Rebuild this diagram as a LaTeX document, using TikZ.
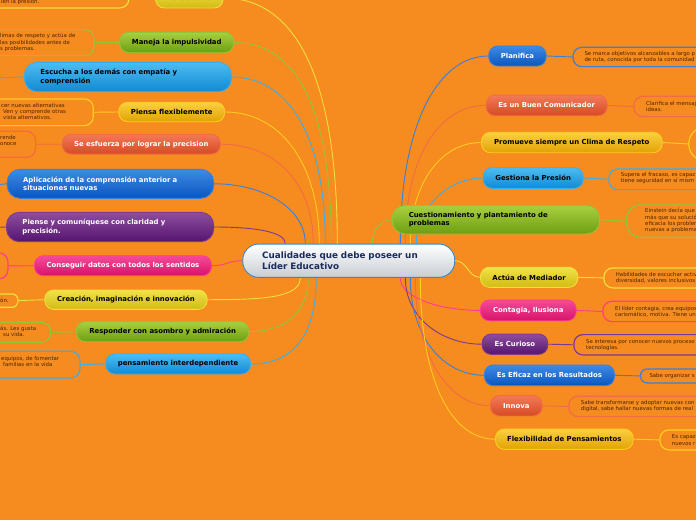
\documentclass[tikz,border=0pt]{standalone}
\usepackage{fontspec}
\newfontfamily\dvs{DejaVu Sans}
\newcommand\brf{\dvs\bfseries\fontsize{6.9}{8.4}\selectfont}
\newcommand\dtf{\dvs\fontsize{5.4}{6.3}\selectfont}
\newcommand\cnf{\dvs\bfseries\fontsize{8.8}{10.7}\selectfont}
\definecolor{BG}{HTML}{F68B1F}
\definecolor{Ytp}{HTML}{F0E24A}\definecolor{Ybt}{HTML}{D2BA12}\definecolor{Ybd}{HTML}{EEE03A}
\definecolor{Gtp}{HTML}{FAD040}\definecolor{Gbt}{HTML}{E2A204}\definecolor{Gbd}{HTML}{FFCC22}
\definecolor{Ntp}{HTML}{A8D040}\definecolor{Nbt}{HTML}{6E9E12}\definecolor{Nbd}{HTML}{92C63A}
\definecolor{Ctp}{HTML}{4DBCF2}\definecolor{Cbt}{HTML}{108AD4}\definecolor{Cbd}{HTML}{3AAEEA}
\definecolor{Btp}{HTML}{3D8BE6}\definecolor{Bbt}{HTML}{0B55BF}\definecolor{Bbd}{HTML}{3A7FDD}
\definecolor{Rtp}{HTML}{F27A58}\definecolor{Rbt}{HTML}{D64A22}\definecolor{Rbd}{HTML}{F26B45}
\definecolor{Ptp}{HTML}{F54B98}\definecolor{Pbt}{HTML}{D8126A}\definecolor{Pbd}{HTML}{FF3C92}
\definecolor{Utp}{HTML}{8E4E9E}\definecolor{Ubt}{HTML}{551470}\definecolor{Ubd}{HTML}{7B3A90}
\definecolor{Mbt}{HTML}{C8CDD3}\definecolor{Mbd}{HTML}{3B86C8}\definecolor{Mtx}{HTML}{1B2B5B}
\definecolor{Dtx}{HTML}{4A2800}
\pgfdeclarelayer{bg}\pgfdeclarelayer{links}
\pgfsetlayers{bg,links,main}
\begin{document}
\begin{tikzpicture}[x=1pt,y=-1pt,
  br/.style={rounded corners=9pt, line width=0.9pt, anchor=west, inner sep=0pt, align=center, font=\brf},
  fYel/.style={br, draw=Ybd, top color=Ytp, bottom color=Ybt, text=black},
  fGld/.style={br, draw=Gbd, top color=Gtp, bottom color=Gbt, text=black},
  fGrn/.style={br, draw=Nbd, top color=Ntp, bottom color=Nbt, text=black},
  fCya/.style={br, draw=Cbd, top color=Ctp, bottom color=Cbt, text=black},
  fBlu/.style={br, draw=Bbd, top color=Btp, bottom color=Bbt, text=white},
  fRed/.style={br, draw=Rbd, top color=Rtp, bottom color=Rbt, text=white},
  fPnk/.style={br, draw=Pbd, top color=Ptp, bottom color=Pbt, text=white},
  fPur/.style={br, draw=Ubd, top color=Utp, bottom color=Ubt, text=white},
  twoline/.style={align=left, rounded corners=13pt, inner xsep=16pt},
  dbox/.style={draw=#1, rounded corners=9pt, line width=1.2pt, anchor=north west, inner sep=0pt},
  dtx/.style={anchor=west, inner sep=0pt, align=left, font=\dtf, text=Dtx},
  lk/.style={line width=0.9pt, draw=#1},
]
\useasboundingbox (0,0) rectangle (696,520);
\begin{pgfonlayer}{bg}
\fill[BG] (0,0) rectangle (696,520);
\end{pgfonlayer}
\clip (0,0) rectangle (696,520);

% central node
\node[draw=Mbd, top color=white, bottom color=Mbt, line width=0.9pt, rounded corners=16pt,
  anchor=west, minimum width=212pt, minimum height=33.3pt, inner xsep=19.4pt, inner ysep=0pt,
  text width=173.2pt, align=left, font=\cnf, text=Mtx] (c) at (242.3,260.7)
  {Cualidades que debe poseer un\\Líder Educativo};

% left branches
\node[fYel, minimum width=67.7pt, minimum height=20pt] (L1) at (155,-2) {Persistente};
\node[fGrn, minimum width=114pt, minimum height=20.4pt] (L2) at (119.3,42.5) {Maneja la impulsividad};
\node[fCya, twoline, text width=175pt, minimum height=29.4pt] (L3) at (24,77) {Escucha a los demás con empatía y\\comprensión};
\node[fGld, minimum width=106pt, minimum height=19.4pt] (L4) at (118.3,112) {Piensa flexiblemente};
\node[fRed, minimum width=158.3pt, minimum height=19.7pt] (L5) at (61.7,144.2) {Se esfuerza por lograr la precision};
\node[fBlu, twoline, text width=174.6pt, minimum height=29pt] (L6) at (6.7,183.8) {Aplicación de la comprensión anterior a\\situaciones nuevas};
\node[fPur, twoline, text width=175.3pt, minimum height=29.4pt, inner xsep=16pt] (L7) at (6,227) {Piense y comuníquese con claridad y\\precisión.};
\node[fPnk, minimum width=177pt, minimum height=20pt] (L8) at (34,265.7) {Conseguir datos con todos los sentidos};
\node[fYel, minimum width=162.4pt, minimum height=19.4pt] (L9) at (44.3,299.7) {Creación, imaginación e innovación};
\node[fGrn, minimum width=172.3pt, minimum height=20pt] (L10) at (76,331.7) {Responder con asombro y admiración};
\node[fCya, minimum width=144.7pt, minimum height=20pt] (L11) at (105.3,364) {pensamiento interdependiente};

% left details
\node[dbox=Ybd, minimum width=168.3pt, minimum height=27.3pt] (L1d) at (-40,-20) {};
\node[dtx] (L1t) at (1,2.3) {ien la presión.};
\node[dbox=Nbd, minimum width=133.3pt, minimum height=26pt] (L2d) at (-40,29) {};
\node[dtx] (L2t) at (0,42.4) {limas de respeto y actúa de\\las posibilidades antes de\\s problemas.};
\node[dbox=Gbd, minimum width=132.7pt, minimum height=26.7pt] (L4d) at (-40,98.3) {};
\node[dtx] (L4t) at (1,111.6) {cer nuevas alternativas\\\hspace*{2pt}Ven y comprende otras\\\hspace*{2pt}vista alternativos.};
\node[dbox=Rbd, minimum width=75pt, minimum height=26pt] (L5d) at (-40,130.7) {};
\node[dtx] (L5t) at (0,140.8) {rende\\onoce};
\node[dbox=Pbd, minimum width=47.3pt, minimum height=26pt] (L8d) at (-40,252.3) {};
\node[dbox=Ybd, rounded corners=6pt, minimum width=57.3pt, minimum height=13.4pt] (L9d) at (-40,293.3) {};
\node[dtx] (L9t) at (0,300.3) {ón.};
\node[dbox=Nbd, minimum width=90pt, minimum height=20pt] (L10d) at (-40,321.7) {};
\node[dtx] (L10t) at (0,331.4) {ás. Les gusta\\\hspace*{3pt}su vida.};
\node[dbox=Cbd, minimum width=119.3pt, minimum height=26.6pt] (L11d) at (-40,350.7) {};
\node[dtx] (L11t) at (1,361.6) {equipos, de fomentar\\\hspace*{2pt}familias en la vida};

\coordinate (e3) at (-6,78);
\coordinate (e6) at (-6,185);
\coordinate (e7) at (-6,227.5);

% right branches
\node[fBlu, minimum width=57.4pt, minimum height=20pt] (R1) at (488.3,56) {Planifica};
\node[fRed, minimum width=121pt, minimum height=20.7pt] (R2) at (485.7,105.4) {Es un Buen Comunicador};
\node[fGld, minimum width=180.7pt, minimum height=20.4pt] (R3) at (481,142.5) {Promueve siempre un Clima de Respeto};
\node[fCya, minimum width=100pt, minimum height=20.6pt] (R4) at (482.7,178) {Gestiona la Presión};
\node[fGrn, twoline, text width=174.4pt, inner xsep=16.6pt, minimum height=28.3pt] (R5) at (391.7,219.8) {Cuestionamiento y plantamiento de\\problemas};
\node[fYel, minimum width=97.3pt, minimum height=20pt] (R6) at (480,277.3) {Actúa de Mediador};
\node[fPnk, minimum width=95.7pt, minimum height=20.7pt] (R7) at (480,310.4) {Contagia, Ilusiona};
\node[fPur, minimum width=65.6pt, minimum height=20.3pt] (R8) at (481.7,344.2) {Es Curioso};
\node[fBlu, minimum width=130pt, minimum height=20.7pt] (R9) at (484,375.3) {Es Eficaz en los Resultados};
\node[fRed, minimum width=51.7pt, minimum height=20.3pt] (R10) at (490,405.8) {Innova};
\node[fGld, minimum width=137.7pt, minimum height=20.3pt] (R11) at (495,439.2) {Flexibilidad de Pensamientos};

% right details
\node[dbox=Bbd, minimum width=167.7pt, minimum height=19.3pt] (R1d) at (572.3,46.7) {};
\node[dtx] (R1t) at (584.3,56.8) {Se marca objetivos alcanzables a largo p\\de ruta, conocida por toda la comunidad};
\node[dbox=Rbd, minimum width=106.7pt, minimum height=20.3pt] (R2d) at (633.3,95.7) {};
\node[dtx] (R2t) at (646,106.3) {Clarifica el mensaj\\ideas.};
\node[dbox=Gbd, rounded corners=16pt, minimum width=60pt, minimum height=33.3pt] (R3d) at (688.3,126.7) {};
\node[dbox=Cbd, minimum width=131.7pt, minimum height=20.7pt] (R4d) at (608.3,168.3) {};
\node[dtx] (R4t) at (620.7,178.2) {Supera el fracaso, es capaz\\tiene seguridad en sí mism};
\node[dbox=Nbd, rounded corners=14pt, minimum width=114pt, minimum height=32.4pt] (R5d) at (626,204.3) {};
\node[dtx] (R5t) at (645,220.8) {Einstein decía que\\más que su solució\\eficacia los problem\\nuevas a problema};
\node[dbox=Ybd, minimum width=136.7pt, minimum height=20pt] (R6d) at (603.3,267.3) {};
\node[dtx] (R6t) at (615.7,277.5) {Habilidades de escuchar activ\\diversidad, valores inclusivos};
\node[dbox=Pbd, minimum width=137.7pt, minimum height=20.3pt] (R7d) at (602.3,300.7) {};
\node[dtx] (R7t) at (615,311.6) {El líder contagia, crea equipos\\carismático, motiva. Tiene un};
\node[dbox=Ubd, minimum width=166.7pt, minimum height=20.3pt] (R8d) at (573.3,334) {};
\node[dtx] (R8t) at (586,345.2) {Se interesa por conocer nuevos proceso\\tecnologías.};
\node[dbox=Bbd, rounded corners=6.5pt, minimum width=100pt, minimum height=14pt] (R9d) at (640,368.3) {};
\node[dtx] (R9t) at (649.3,375.6) {Sabe organizar s};
\node[dbox=Rbd, minimum width=171.7pt, minimum height=20.3pt] (R10d) at (568.3,395.7) {};
\node[dtx] (R10t) at (580.7,406.3) {Sabe transformarse y adoptar nuevas con\\digital, sabe hallar nuevas formas de real};
\node[dbox=Gbd, minimum width=80.7pt, minimum height=20pt] (R11d) at (659.3,429.3) {};
\node[dtx] (R11t) at (671.7,440) {Es capaz\\nuevos r};

\begin{pgfonlayer}{links}
% left curves
\draw[lk=Ybd] (L1.east) .. controls +(70,0) and +(0,-170) .. ([xshift=95pt]c.north west);
\draw[lk=Nbd] (L2.east) .. controls +(60,0) and +(0,-140) .. ([xshift=89pt]c.north west);
\draw[lk=Cbd] (L3.east) .. controls +(55,0) and +(0,-110) .. ([xshift=83pt]c.north west);
\draw[lk=Gbd] (L4.east) .. controls +(55,0) and +(0,-80) .. ([xshift=77pt]c.north west);
\draw[lk=Rbd] (L5.east) .. controls +(55,0) and +(0,-60) .. ([xshift=71pt]c.north west);
\draw[lk=Bbd] (L6.east) .. controls +(50,0) and +(0,-35) .. ([xshift=63pt]c.north west);
\draw[lk=Ubd] (L7.east) .. controls +(40,0) and +(0,-12) .. ([xshift=43pt]c.north west);
\draw[lk=Pbd] (L8.east) .. controls +(15,0) and +(-15,0) .. (c.west);
\draw[lk=Ybd] (L9.east) .. controls +(55,0) and +(0,20) .. ([xshift=58pt]c.south west);
\draw[lk=Nbd] (L10.east) .. controls +(35,0) and +(0,35) .. ([xshift=66pt]c.south west);
\draw[lk=Cbd] (L11.east) .. controls +(40,0) and +(0,60) .. ([xshift=74pt]c.south west);
% left detail links
\draw[lk=Ybd] (L1.west) -- (L1d.east |- L1.west);
\draw[lk=Nbd] (L2.west) -- (L2d.east);
\draw[lk=Cbd] (L3.west) -- (e3);
\draw[lk=Gbd] (L4.west) -- (L4d.east);
\draw[lk=Rbd] (L5.west) -- (L5d.east);
\draw[lk=Bbd] (L6.west) -- (e6);
\draw[lk=Ubd] (L7.west) -- (e7);
\draw[lk=Pbd] (L8.west) -- (L8d.east);
\draw[lk=Ybd] (L9.west) -- (L9d.east);
\draw[lk=Nbd] (L10.west) -- (L10d.east);
\draw[lk=Cbd] (L11.west) -- (L11d.east);
% right curves
\draw[lk=Bbd] ([xshift=158pt]c.north west) .. controls +(0,-120) and +(-50,0) .. (R1.west);
\draw[lk=Rbd] ([xshift=163pt]c.north west) .. controls +(0,-90) and +(-45,0) .. (R2.west);
\draw[lk=Gbd] ([xshift=168pt]c.north west) .. controls +(0,-60) and +(-40,0) .. (R3.west);
\draw[lk=Cbd] ([xshift=174pt]c.north west) .. controls +(0,-35) and +(-35,0) .. (R4.west);
\draw[lk=Nbd] ([xshift=130pt]c.north west) .. controls +(0,-15) and +(-10,0) .. (R5.west);
\draw[lk=Ybd] (c.east) .. controls +(12,0) and +(-12,0) .. (R6.west);
\draw[lk=Pbd] ([xshift=158pt]c.south west) .. controls +(0,20) and +(-40,0) .. (R7.west);
\draw[lk=Ubd] ([xshift=163pt]c.south west) .. controls +(0,40) and +(-40,0) .. (R8.west);
\draw[lk=Bbd] ([xshift=168pt]c.south west) .. controls +(0,60) and +(-40,0) .. (R9.west);
\draw[lk=Rbd] ([xshift=173pt]c.south west) .. controls +(0,80) and +(-40,0) .. (R10.west);
\draw[lk=Gbd] ([xshift=178pt]c.south west) .. controls +(0,100) and +(-45,0) .. (R11.west);
% right detail links
\draw[lk=Bbd] (R1.east) -- (R1d.west);
\draw[lk=Rbd] (R2.east) -- (R2d.west);
\draw[lk=Gbd] (R3.east) -- (R3d.west);
\draw[lk=Cbd] (R4.east) -- (R4d.west);
\draw[lk=Nbd] (R5.east) -- (R5d.west);
\draw[lk=Ybd] (R6.east) -- (R6d.west);
\draw[lk=Pbd] (R7.east) -- (R7d.west);
\draw[lk=Ubd] (R8.east) -- (R8d.west);
\draw[lk=Bbd] (R9.east) -- (R9d.west);
\draw[lk=Rbd] (R10.east) -- (R10d.west);
\draw[lk=Gbd] (R11.east) -- (R11d.west);
\end{pgfonlayer}
\end{tikzpicture}
\end{document}
